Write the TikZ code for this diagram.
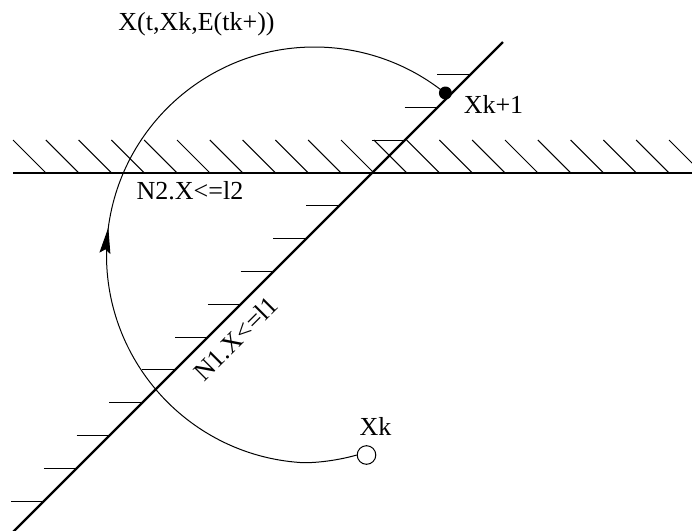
\documentclass[tikz,border=0pt]{standalone}
\usepackage{fontspec}
\setmainfont{Liberation Serif}
\usetikzlibrary{arrows.meta,decorations.markings}
\begin{document}
\begin{tikzpicture}[x=0.5pt,y=0.5pt,
  thickline/.style={line width=1.2pt},
  hatch/.style={line width=0.5pt},
  curve/.style={line width=0.5pt},
  lab/.style={font=\fontsize{13}{15}\selectfont, inner sep=0pt, anchor=base}]
\useasboundingbox (0,0) rectangle (692,-531);
\clip (0,0) rectangle (692,-531);
% boundary lines
\coordinate (hl) at (13,-173);
\coordinate (hr) at (692,-173);
\coordinate (dl) at (13,-532);
\coordinate (dr) at (503,-42);
\foreach \k in {0,...,20} \draw[hatch] ({13+32.8*\k},-140) -- ++(33,-33);
\foreach \k in {-10,...,3} \draw[hatch] ({339+32.8*\k},{-173+32.8*\k}) -- ++(33,0);
\draw[thickline] (hl) -- (hr);
\draw[thickline] (dl) -- (dr);
% states
\node[circle, draw, line width=0.5pt, fill=white, minimum size=9.3pt, inner sep=0pt] (xk) at (366.5,-455) {};
\node[circle, fill=black, minimum size=6.5pt, inner sep=0pt] (xk1) at (445.4,-93) {};
% trajectory
\draw[curve, postaction={decorate},
  decoration={markings, mark=at position 0.474 with {\arrow{Stealth[length=13pt,width=5.5pt,inset=2pt]}}}]
  (xk.west) .. controls (340,-460) and (315,-463.5) .. (300,-462.5)
  arc[start angle=266, end angle=51, radius=208];
% labels
\node[lab] (lt) at (196.5,-30.5) {X(t,Xk,E(tk+))};
\node[lab] (l2) at (190,-199) {N2.X<=l2};
\node[lab] (lxk1) at (493.5,-113) {Xk+1};
\node[lab] (lxk) at (375.5,-435) {Xk};
\node[lab, rotate=45] (l1) at (242,-345) {N1.X<=l1};
\end{tikzpicture}
\end{document}
